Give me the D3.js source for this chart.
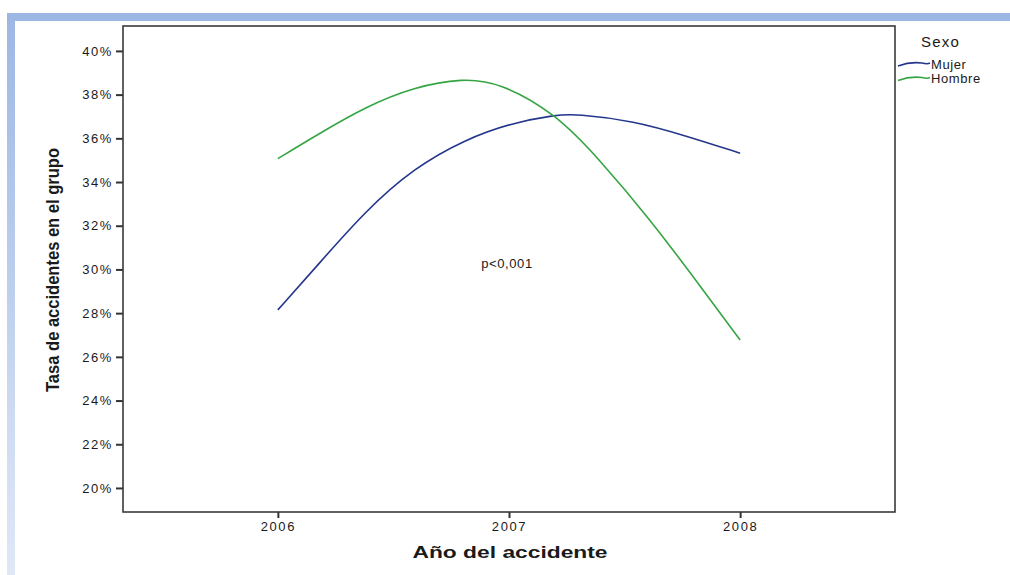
<!DOCTYPE html>
<html>
<head>
<meta charset="utf-8">
<script src="https://d3js.org/d3.v7.min.js"></script>
<style>
  body { margin: 0; background: #fff; }
  text { font-family: "Liberation Sans", Arial, sans-serif; fill: #1a1a1a; }
</style>
</head>
<body>
<div id="chart"></div>
<script>
const hombreYears = [2006.0, 2006.16, 2006.38, 2006.59, 2006.8, 2006.96, 2007.2, 2007.39, 2007.61, 2007.83, 2008.0];
const hombreRates = [35.07, 36.1, 37.45, 38.35, 38.75, 38.55, 37.15, 35.05, 32.3, 29.2, 26.77];
const mujerYears = [2006.0, 2006.16, 2006.38, 2006.59, 2006.81, 2007.01, 2007.2, 2007.29, 2007.54, 2007.77, 2008.0];
const mujerRates = [28.15, 30.05, 32.7, 34.65, 35.95, 36.7, 37.07, 37.12, 36.8, 36.1, 35.32];
const xTicks = [2006, 2007, 2008];
const yTicks = [20, 22, 24, 26, 28, 30, 32, 34, 36, 38, 40];
const seriesNames = ['Mujer', 'Hombre'];
const seriesColors = ['#24368c', '#35a544'];

const width = 1010, height = 575;
const plot = { left: 123, top: 26, right: 895, bottom: 512 };

const svg = d3.select('#chart').append('svg')
  .attr('width', width).attr('height', height);

// Slide frame (light blue top bar + fading left bar)
const defs = svg.append('defs');
const grad = defs.append('linearGradient').attr('id', 'leftFade')
  .attr('x1', 0).attr('y1', 0).attr('x2', 0).attr('y2', 1);
grad.append('stop').attr('offset', '0%').attr('stop-color', '#9db7e4');
grad.append('stop').attr('offset', '100%').attr('stop-color', '#e0e8f6');

svg.append('rect').attr('x', 7).attr('y', 13).attr('width', 8).attr('height', height - 13)
  .attr('fill', 'url(#leftFade)');
svg.append('rect').attr('x', 7).attr('y', 13).attr('width', width - 7).attr('height', 8)
  .attr('fill', '#9db7e4');

const x = d3.scaleLinear().domain([2005.33, 2008.67]).range([plot.left, plot.right]);
const y = d3.scaleLinear().domain([18.9, 41.14]).range([plot.bottom, plot.top]);

// Y axis
const yAxis = svg.append('g')
  .attr('transform', `translate(${plot.left},0)`)
  .call(d3.axisLeft(y).tickValues(yTicks).tickFormat(d => d + '%').tickSize(7).tickPadding(3));
yAxis.select('.domain').remove();
yAxis.selectAll('line').attr('stroke', '#333').attr('stroke-width', 2);
yAxis.selectAll('text')
  .attr('font-size', 13).style('letter-spacing', '1.6px')
  .attr('fill', '#222').attr('font-family', null);

// X axis
const xAxis = svg.append('g')
  .attr('transform', `translate(0,${plot.bottom})`)
  .call(d3.axisBottom(x).tickValues(xTicks).tickFormat(d3.format('d')).tickSize(6).tickPadding(4));
xAxis.select('.domain').remove();
xAxis.selectAll('line').attr('stroke', '#333').attr('stroke-width', 2);
xAxis.selectAll('text')
  .attr('font-size', 13).style('letter-spacing', '1.6px')
  .attr('fill', '#222').attr('font-family', null);

// Plot frame
svg.append('rect')
  .attr('x', plot.left).attr('y', plot.top)
  .attr('width', plot.right - plot.left).attr('height', plot.bottom - plot.top)
  .attr('fill', 'none').attr('stroke', '#3a3a3a').attr('stroke-width', 1.6);

// Curves
const line = d3.line()
  .x(d => x(d[0])).y(d => y(d[1]))
  .curve(d3.curveBasis);

const series = [
  d3.zip(mujerYears, mujerRates),
  d3.zip(hombreYears, hombreRates)
];

svg.append('g').selectAll('path')
  .data(series).enter().append('path')
  .attr('d', line)
  .attr('fill', 'none')
  .attr('stroke', (d, i) => seriesColors[i])
  .attr('stroke-width', 1.6);

// Annotation
svg.append('text')
  .attr('x', 507).attr('y', 268)
  .attr('text-anchor', 'middle')
  .attr('font-size', 13).style('letter-spacing', '0.6px')
  .text('p<0,001');

// Axis titles
svg.append('text')
  .attr('x', 510).attr('y', 558)
  .attr('text-anchor', 'middle')
  .attr('font-size', 17).attr('font-weight', 'bold')
  .attr('textLength', 195).attr('lengthAdjust', 'spacingAndGlyphs')
  .text('Año del accidente');

svg.append('text')
  .attr('transform', 'translate(59,270) rotate(-90)')
  .attr('text-anchor', 'middle')
  .attr('font-size', 19).attr('font-weight', 'bold')
  .attr('textLength', 244).attr('lengthAdjust', 'spacingAndGlyphs')
  .text('Tasa de accidentes en el grupo');

// Legend
const legend = svg.append('g').attr('transform', 'translate(898,0)');
legend.append('text')
  .attr('x', 23).attr('y', 47)
  .attr('font-size', 15).style('letter-spacing', '1.2px')
  .text('Sexo');

seriesNames.forEach((name, i) => {
  const row = legend.append('g').attr('transform', `translate(0,${64 + i * 14.5})`);
  row.append('path')
    .attr('d', 'M0,2 C8,-1 16,-2 24,-1 C28,0 30,0 32,-1')
    .attr('fill', 'none')
    .attr('stroke', seriesColors[i])
    .attr('stroke-width', 1.5);
  row.append('text')
    .attr('x', 33).attr('y', 4.5)
    .attr('font-size', 13).style('letter-spacing', '0.6px')
    .text(name);
});
</script>
</body>
</html>
